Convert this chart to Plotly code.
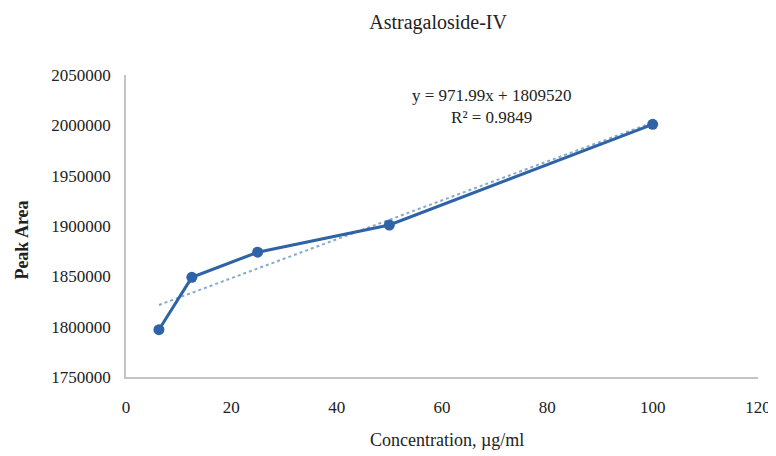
import numpy as np
import plotly.graph_objects as go

concentration = [6.25, 12.5, 25, 50, 100]
peak_area = [1797000, 1849000, 1874000, 1901000, 2001000]
x_ticks = [0, 20, 40, 60, 80, 100, 120]
y_ticks = [1750000, 1800000, 1850000, 1900000, 1950000, 2000000, 2050000]
equation_text = "y = 971.99x + 1809520<br>R² = 0.9849"

slope, intercept = np.polyfit(concentration, peak_area, 1)
trend_x = [min(concentration), max(concentration)]
trend_y = [slope * v + intercept for v in trend_x]

serif = "Liberation Serif"
ink = "#222222"
fig = go.Figure()
fig.add_trace(go.Scatter(x=trend_x, y=trend_y, mode="lines",
                         line=dict(color="#86a9cf", width=2, dash="dot"),
                         showlegend=False))
fig.add_trace(go.Scatter(x=concentration, y=peak_area, mode="lines+markers",
                         line=dict(color="#2e63a6", width=3),
                         marker=dict(size=11, color="#2e63a6"),
                         showlegend=False))

fig.add_annotation(x=0.579, y=0.897, xref="paper", yref="paper", text=equation_text,
                   showarrow=False, font=dict(family=serif, size=17, color=ink),
                   align="center", xanchor="center", yanchor="middle")
fig.add_annotation(x=-0.165, y=0.454, xref="paper", yref="paper", text="<b>Peak Area</b>",
                   textangle=-90, showarrow=False, font=dict(family=serif, size=18, color=ink),
                   xanchor="center", yanchor="middle")
fig.add_annotation(x=0.508, y=-0.209, xref="paper", yref="paper", text="Concentration, µg/ml",
                   showarrow=False, font=dict(family=serif, size=18, color=ink),
                   xanchor="center", yanchor="middle")

fig.update_layout(
    width=768, height=448,
    margin=dict(l=118, r=18, t=67, b=79),
    paper_bgcolor="white", plot_bgcolor="white",
    title=dict(text="Astragaloside-IV", x=0.56, xanchor="center", y=0.969, yanchor="middle",
               font=dict(family=serif, size=20, color=ink)),
    font=dict(family=serif, color=ink),
)
fig.update_xaxes(range=[0, 120], tickvals=x_ticks, showgrid=False, zeroline=False,
                 showline=True, linecolor="#c4c4c4", linewidth=1.5, ticks="",
                 automargin=False, ticklabelstandoff=14,
                 tickfont=dict(family=serif, size=17, color=ink))
fig.update_yaxes(range=[1750000, 2050000], tickvals=y_ticks, showgrid=False, zeroline=False,
                 showline=True, linecolor="#c4c4c4", linewidth=1.5, ticks="",
                 automargin=False, ticklabelstandoff=10, tickformat="d",
                 tickfont=dict(family=serif, size=17, color=ink))

fig.write_html("out.html")
